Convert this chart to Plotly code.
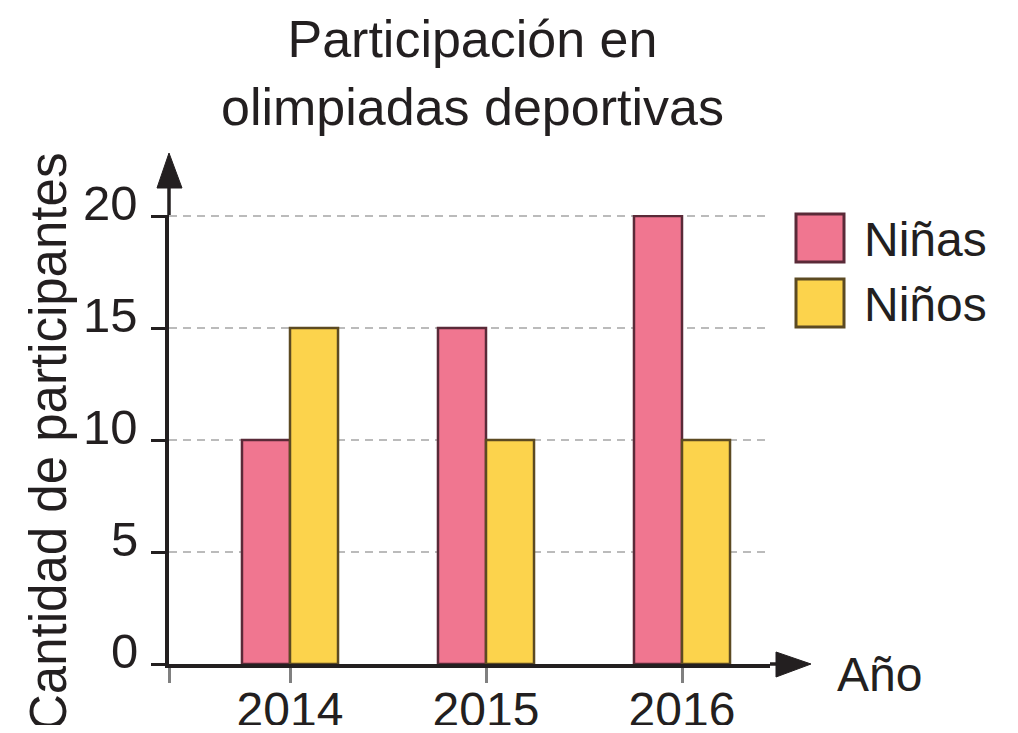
import plotly.graph_objects as go

# ---- data ----
years = ["2014", "2015", "2016"]
series_names = ["Niñas", "Niños"]
ninas = [10, 15, 20]
ninos = [15, 10, 10]
y_ticks = [0, 5, 10, 15, 20]

title_text = "Participación en<br>olimpiadas deportivas"
y_title = "Cantidad de participantes"
x_title = "Año"

# ---- styling / layout geometry (screen pixels; page has an 8px body margin) ----
OFF = 8
SW, SH = 1018, 733
W, H = SW - 2 * OFF, SH - 2 * OFF
Ls, Rs, Ts, Bs = 169, 770, 215, 664       # plot area in screen pixels
PW, PH = Rs - Ls, Bs - Ts
Y_TOP = 20.05
PINK, PINK_LINE = "#F07690", "#5A2A38"
YELLOW, YELLOW_LINE = "#FCD34C", "#5C4A22"
INK = "#231F20"
FONT = "Liberation Sans, Arial, sans-serif"

def px(xs):
    return (xs - Ls) / PW

def py(ys):
    return (Bs - ys) / PH

x_pos = list(range(len(years)))
unit = 196.0  # pixels between categories
x_left = -(290 - Ls) / unit
x_right = x_left + PW / unit

fig = go.Figure()
fig.add_trace(go.Bar(x=x_pos, y=ninas, name=series_names[0], marker=dict(color=PINK, line=dict(color=PINK_LINE, width=2.5)), showlegend=False))
fig.add_trace(go.Bar(x=x_pos, y=ninos, name=series_names[1], marker=dict(color=YELLOW, line=dict(color=YELLOW_LINE, width=2.5)), showlegend=False))

shapes = []
# y-axis arrow extension + head
shapes.append(dict(type="line", xref="paper", yref="paper", x0=0, x1=0, y0=1, y1=py(188), line=dict(color=INK, width=3.5)))
shapes.append(dict(type="path", xref="paper", yref="paper",
                   path=f"M {px(157)} {py(188)} L {px(169)} {py(153)} L {px(182)} {py(188)} Z",
                   fillcolor=INK, line=dict(color=INK, width=1)))
# x-axis arrow extension + head
shapes.append(dict(type="line", xref="paper", yref="paper", x0=1, x1=px(777), y0=0, y1=0, line=dict(color=INK, width=3.5)))
shapes.append(dict(type="path", xref="paper", yref="paper",
                   path=f"M {px(776)} {py(652)} L {px(811)} {py(664)} L {px(776)} {py(677)} Z",
                   fillcolor=INK, line=dict(color=INK, width=1)))
# legend squares
shapes.append(dict(type="rect", xref="paper", yref="paper", x0=px(796), x1=px(844), y0=py(214), y1=py(262),
                   fillcolor=PINK, line=dict(color=PINK_LINE, width=3)))
shapes.append(dict(type="rect", xref="paper", yref="paper", x0=px(796), x1=px(844), y0=py(279), y1=py(327),
                   fillcolor=YELLOW, line=dict(color=YELLOW_LINE, width=3)))

annotations = [
    dict(text=title_text, xref="paper", yref="paper", x=px(472), y=py(8), xanchor="center", yanchor="top",
         showarrow=False, font=dict(size=52, color=INK, family=FONT)),
    dict(text=series_names[0], xref="paper", yref="paper", x=px(862), y=py(239), xanchor="left", yanchor="middle",
         showarrow=False, font=dict(size=48, color=INK, family=FONT)),
    dict(text=series_names[1], xref="paper", yref="paper", x=px(862), y=py(304), xanchor="left", yanchor="middle",
         showarrow=False, font=dict(size=48, color=INK, family=FONT)),
    dict(text=x_title, xref="paper", yref="paper", x=px(835), y=py(674), xanchor="left", yanchor="middle",
         showarrow=False, font=dict(size=48, color=INK, family=FONT)),
    dict(text=y_title, xref="paper", yref="paper", x=px(48), y=py(442), xanchor="center", yanchor="middle",
         textangle=-90, showarrow=False, font=dict(size=51, color=INK, family=FONT)),
]
# y tick labels (sit slightly above their ticks in the reference)
for v in y_ticks:
    annotations.append(dict(text=str(v), xref="paper", yref="y", x=px(140), y=v, yshift=13,
                            xanchor="right", yanchor="middle", showarrow=False,
                            font=dict(size=49, color=INK, family=FONT)))

fig.update_layout(
    width=W, height=H,
    margin=dict(l=Ls - OFF, r=(OFF + W) - Rs, t=Ts - OFF, b=(OFF + H) - Bs, pad=0, autoexpand=False),
    paper_bgcolor="white", plot_bgcolor="white",
    barmode="group", bargap=0.51, bargroupgap=0,
    shapes=shapes, annotations=annotations,
    font=dict(family=FONT, color=INK),
)
fig.update_xaxes(range=[x_left, x_right], tickvals=[x_left] + x_pos, ticktext=[""] + years,
                 showline=True, linecolor=INK, linewidth=3.5,
                 ticks="outside", ticklen=15, tickwidth=3, tickcolor="#808080",
                 tickfont=dict(size=48, color=INK, family=FONT), ticklabelstandoff=-14,
                 showgrid=False, zeroline=False, fixedrange=True, automargin=False)
fig.update_yaxes(range=[0, Y_TOP], tickvals=y_ticks, showticklabels=False,
                 showline=True, linecolor=INK, linewidth=3.5,
                 ticks="outside", ticklen=14, tickwidth=3, tickcolor=INK,
                 showgrid=True, gridcolor="#BBBBBB", gridwidth=2, griddash="8px,6px",
                 zeroline=False, fixedrange=True, automargin=False)

fig.write_html("out.html")
